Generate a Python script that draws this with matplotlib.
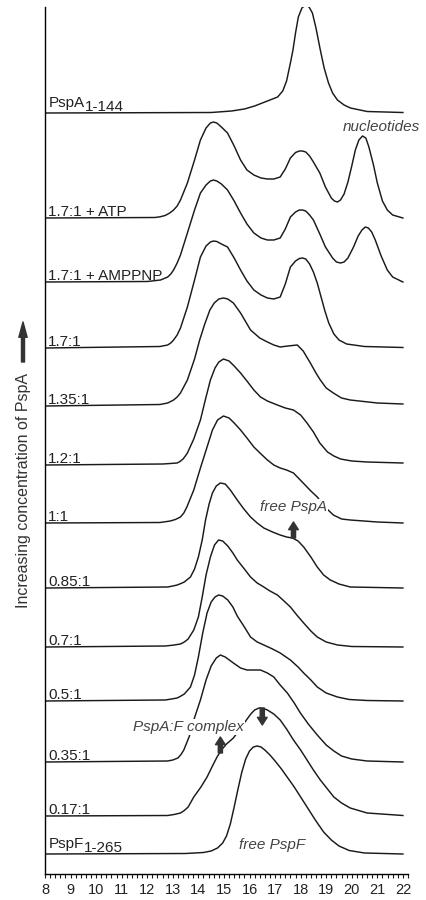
import matplotlib
matplotlib.use("Agg")
import matplotlib.pyplot as plt
from matplotlib.ticker import MultipleLocator

plt.rcParams['font.family'] = ['Liberation Sans', 'DejaVu Sans']

# elution volume (ml) and trace height above its own baseline
x_pspf = [8, 13.5, 14.2, 14.5, 14.75, 14.95, 15.1, 15.25, 15.4, 15.55, 15.7, 15.85, 16.0, 16.15, 16.3,
          16.45, 16.6, 16.8, 17.0, 17.25, 17.5, 17.75, 18.0, 18.3, 18.6, 18.9, 19.2, 19.5, 19.9, 20.5, 22]
h_pspf = [0, 0.5, 1.5, 3, 6, 11, 18, 30, 47, 65, 82, 95, 103, 107, 108, 107, 104, 99, 93, 85, 76, 67, 57,
          45, 33, 22, 14, 8, 3.5, 1, 0]

x_017 = [8, 12.8, 13.05, 13.3, 13.45, 13.6, 13.82, 14.1, 14.34, 14.55, 14.73, 14.9, 15.1, 15.37, 15.6,
         15.85, 16.05, 16.2, 16.37, 16.55, 16.7, 16.95, 17.2, 17.45, 17.72, 18.0, 18.25, 18.5, 18.77, 19.05,
         19.3, 19.6, 19.94, 20.6, 22]
h_017 = [0, 0.5, 1.5, 3, 5.5, 9, 19, 29, 39, 50, 59, 66, 72, 78, 86, 95, 102, 106, 108, 107.5, 106, 102,
         96, 87, 76, 66, 56, 46, 36, 27, 19, 13, 8, 3, 0.5]

x_035 = [8, 12.8, 13.0, 13.2, 13.32, 13.43, 13.65, 13.82, 14.08, 14.3, 14.5, 14.7, 14.86, 15.05, 15.37,
         15.65, 15.9, 16.15, 16.43, 16.7, 16.95, 17.2, 17.48, 17.75, 17.99, 18.3, 18.65, 19.0, 19.3, 19.6,
         20.0, 20.6, 22]
h_035 = [0, 1, 2, 4, 7.5, 12, 26, 42, 62, 82, 96, 104, 107, 105, 99, 94, 92, 92, 92, 89, 85, 77, 69, 59,
         49, 38, 27, 17, 11, 6, 3, 1, 0]

x_05 = [8, 12.7, 12.95, 13.17, 13.32, 13.45, 13.69, 13.85, 14.0, 14.17, 14.34, 14.5, 14.65, 14.79, 14.95,
        15.15, 15.35, 15.52, 15.8, 16.04, 16.3, 16.56, 16.9, 17.2, 17.6, 17.9, 18.12, 18.4, 18.65, 19.0,
        19.44, 19.9, 20.6, 22]
h_05 = [0, 1, 2, 3, 5, 7, 14, 26, 44, 68, 88, 99, 104, 106, 105, 101, 94, 85, 74, 64, 59, 56, 52, 48, 41,
        34, 28, 21, 14, 8, 4, 1.5, 0.5, 0]

x_07 = [8, 12.7, 13.0, 13.3, 13.45, 13.6, 13.82, 14.0, 14.15, 14.3, 14.47, 14.63, 14.79, 14.95, 15.15,
        15.35, 15.52, 15.8, 16.04, 16.3, 16.56, 16.8, 17.09, 17.35, 17.6, 17.85, 18.12, 18.4, 18.65, 19.0,
        19.44, 20.0, 22]
h_07 = [0, 1, 1.8, 3, 5, 8, 17, 30, 50, 72, 90, 102, 107, 106, 101, 94, 87, 78, 70, 64, 60, 56, 52, 46,
        40, 32, 24, 16, 10, 5, 2, 0.5, 0]

x_085 = [8, 12.8, 13.0, 13.17, 13.32, 13.45, 13.69, 13.85, 14.0, 14.15, 14.28, 14.42, 14.55, 14.7, 14.86,
         15.05, 15.25, 15.52, 15.78, 16.04, 16.3, 16.56, 16.9, 17.2, 17.45, 17.68, 17.9, 18.12, 18.4, 18.65,
         18.9, 19.16, 19.5, 19.94, 22]
h_085 = [0, 1, 2, 3, 4.5, 6, 11, 19, 31, 48, 68, 84, 95, 102, 105, 104, 98, 88, 79, 71, 65, 60, 56, 53,
         51, 50, 47, 41, 31, 21, 13, 8, 4, 1, 0]

x_1 = [8, 12.5, 12.9, 13.1, 13.3, 13.43, 13.55, 13.82, 14.08, 14.34, 14.55, 14.75, 14.98, 15.2, 15.4,
       15.65, 15.9, 16.17, 16.45, 16.7, 16.95, 17.2, 17.45, 17.72, 18.1, 18.4, 18.65, 18.95, 19.28, 19.6,
       19.94, 21, 22]
h_1 = [0, 0.5, 2, 3.5, 6, 10, 16, 33, 55, 76, 93, 103, 107, 105, 100, 93, 85, 76, 69, 63, 58, 55, 53, 50,
       40, 32, 26, 16, 8, 4, 3, 1, 0]

x_12 = [8, 12.6, 12.9, 13.17, 13.28, 13.4, 13.49, 13.57, 13.82, 14.08, 14.28, 14.47, 14.65, 14.8, 14.98,
        15.2, 15.4, 15.65, 15.9, 16.17, 16.43, 16.7, 17.09, 17.4, 17.72, 18.0, 18.25, 18.5, 18.75, 19.05,
        19.3, 19.56, 20.0, 20.6, 22]
h_12 = [0, 1, 1.5, 2, 3.5, 6, 9, 12, 26, 45, 66, 85, 97, 103, 106, 104, 99, 92, 84, 75, 68, 64, 60, 57,
        55, 50, 42, 33, 22, 13, 9, 6, 4, 3, 2]

x_135 = [8, 12.5, 12.8, 13.03, 13.17, 13.3, 13.57, 13.85, 14.05, 14.25, 14.45, 14.62, 14.8, 14.98, 15.15,
         15.37, 15.65, 16.04, 16.4, 16.7, 16.95, 17.2, 17.5, 17.87, 18.1, 18.38, 18.6, 18.77, 19.0, 19.28,
         19.6, 19.94, 21, 22]
h_135 = [0, 1.5, 3, 6, 9, 13, 26, 47, 66, 82, 96, 103, 107, 108, 107, 103, 93, 76, 68, 64, 61, 59, 60,
         61, 55, 43, 33, 26, 18, 13, 8, 6, 3, 2]

x_17 = [8, 12.5, 12.8, 12.92, 13.03, 13.17, 13.3, 13.57, 13.85, 14.08, 14.3, 14.47, 14.59, 14.72, 14.9,
        15.14, 15.4, 15.65, 15.9, 16.17, 16.45, 16.7, 16.95, 17.2, 17.4, 17.6, 17.8, 17.95, 18.07, 18.2,
        18.35, 18.5, 18.65, 18.8, 18.95, 19.1, 19.3, 19.5, 19.8, 20.5, 22]
h_17 = [0, 1.5, 3, 5, 8, 13, 20, 41, 68, 91, 102, 106, 107, 106.5, 104, 101, 90, 78, 67, 58, 53, 50, 49,
        51, 64, 81, 87, 89.5, 90, 89, 84, 76, 65, 51, 37, 25, 14, 8, 4, 1.5, 0.5]

x_amppnp = [8, 12.0, 12.52, 12.8, 12.92, 13.03, 13.17, 13.3, 13.57, 13.85, 14.08, 14.3, 14.47, 14.59,
            14.72, 14.9, 15.14, 15.4, 15.65, 15.9, 16.17, 16.45, 16.7, 16.95, 17.2, 17.4, 17.6, 17.8,
            17.95, 18.07, 18.2, 18.35, 18.5, 18.75, 18.97, 19.25, 19.4, 19.56, 19.7, 19.85, 20.07, 20.25,
            20.4, 20.53, 20.65, 20.78, 20.92, 21.15, 21.39, 21.6, 22]
h_amppnp = [0, 0.5, 2, 5, 8, 12, 19, 27, 49, 72, 89, 97, 101, 102, 101, 98, 92, 81, 69, 58, 49, 44, 42,
            42, 44, 53, 65, 70, 72, 72, 71, 67, 62, 48, 35, 24, 20, 19, 20, 24, 35, 46, 52, 55, 54, 50,
            42, 26, 12, 5, 0]

x_atp = [8, 12.3, 12.5, 12.7, 12.88, 13.03, 13.17, 13.3, 13.57, 13.85, 14.08, 14.3, 14.47, 14.59, 14.72,
         14.9, 15.14, 15.4, 15.65, 15.9, 16.17, 16.45, 16.7, 16.95, 17.2, 17.4, 17.6, 17.8, 17.95, 18.07,
         18.2, 18.35, 18.5, 18.75, 18.97, 19.2, 19.32, 19.44, 19.56, 19.7, 19.85, 20.0, 20.14, 20.28,
         20.42, 20.55, 20.67, 20.85, 21.0, 21.2, 21.39, 21.6, 22]
h_atp = [0, 0.5, 1.2, 2.5, 5, 8, 12, 18, 35, 58, 78, 90, 95, 96, 95, 91, 85, 72, 58, 48, 43, 40, 39, 39,
         41, 49, 60, 65.5, 67, 67, 66, 62, 56, 45, 31, 20, 17, 16, 18, 24, 36, 52, 68, 78, 82, 80, 71, 53,
         35, 17, 8, 3, 0]

x_pspa = [8, 14.5, 15.3, 15.8, 16.2, 16.6, 16.9, 17.1, 17.3, 17.45, 17.6, 17.7, 17.8, 17.91, 18.05, 18.19,
          18.33, 18.46, 18.6, 18.77, 18.92, 19.09, 19.25, 19.44, 19.7, 19.95, 20.6, 22]
h_pspa = [0, 0.5, 2, 4, 7, 11, 14, 16, 22, 32, 50, 63, 80, 96, 105, 108, 106, 100, 85, 63, 45, 30, 20,
          13, 8, 5, 1.5, 0.5]

traces = [(x_pspf, h_pspf), (x_017, h_017), (x_035, h_035), (x_05, h_05), (x_07, h_07),
          (x_085, h_085), (x_1, h_1), (x_12, h_12), (x_135, h_135), (x_17, h_17),
          (x_amppnp, h_amppnp), (x_atp, h_atp), (x_pspa, h_pspa)]
labels = ['PspF', '0.17:1', '0.35:1', '0.5:1', '0.7:1', '0.85:1', '1:1', '1.2:1', '1.35:1', '1.7:1',
          '1.7:1 + AMPPNP', '1.7:1 + ATP', 'PspA']
subs = {'PspF': '1-265', 'PspA': '1-144'}
# vertical stacking offset of each trace
offsets = [20, 58, 112, 173, 227, 286, 351, 409, 468, 526, 592, 656, 761]

fig = plt.figure(figsize=(4.27, 9.0), dpi=100)
ax = fig.add_axes([45 / 427, 26 / 900, 363 / 427, 867 / 900])

ink = '#1a1a1a'
for (xs, hs), off, lab in zip(traces, offsets, labels):
    ax.plot(xs, [h + off for h in hs], color=ink, lw=1.05, solid_joinstyle='round', zorder=2)
    dy = 6 if lab in subs else 2
    t = ax.text(8.13, off + dy, lab, fontsize=11, color='#222222', va='baseline', ha='left', zorder=3)
    if lab in subs:
        ax.annotate(subs[lab], xy=(1, 0), xycoords=t, xytext=(0, -3), textcoords='offset points',
                    fontsize=11, color='#222222', va='bottom', ha='left', zorder=3)

note = dict(fontsize=11, style='italic', color='#444444', ha='center', va='center', zorder=4,
            bbox=dict(facecolor='white', edgecolor='none', pad=0.5))
ax.text(21.16, 747, 'nucleotides', **note)
ax.text(17.72, 367, 'free PspA', **note)
ax.text(13.61, 147, 'PspA:F complex', **note)
ax.text(16.9, 29, 'free PspF', **note)

arrow = dict(arrowstyle='simple,head_length=0.55,head_width=0.7,tail_width=0.3', color='#333333',
             shrinkA=0, shrinkB=0, mutation_scale=10)
ax.annotate('', xy=(17.72, 352), xytext=(17.72, 336), arrowprops=arrow, zorder=5)
ax.annotate('', xy=(14.86, 137), xytext=(14.86, 121), arrowprops=arrow, zorder=5)
ax.annotate('', xy=(16.5, 149), xytext=(16.5, 166), arrowprops=arrow, zorder=5)

ax.set_xlim(8, 22.2)
ax.set_ylim(0, 867)
ax.spines['top'].set_visible(False)
ax.spines['right'].set_visible(False)
ax.spines['left'].set_linewidth(1.0)
ax.spines['bottom'].set_linewidth(1.0)
ax.set_yticks([])
ax.xaxis.set_major_locator(MultipleLocator(1))
ax.xaxis.set_minor_locator(MultipleLocator(0.2))
ax.tick_params(axis='x', which='both', direction='out', length=3, width=0.8, color=ink)
ax.tick_params(axis='x', which='major', labelsize=10.5, pad=3.5, labelcolor='#222222')

fig.text(24 / 427, 410 / 900, 'Increasing concentration of PspA', rotation=90, fontsize=11.5,
         color='#333333', ha='center', va='center')
# arrow next to the y label, placed in figure pixels
ax.annotate('', xy=(23, 578), xycoords='figure pixels', xytext=(23, 538), textcoords='figure pixels',
            arrowprops=dict(arrowstyle='simple,head_length=1.1,head_width=0.6,tail_width=0.22',
                            color='#333333', shrinkA=0, shrinkB=0, mutation_scale=10),
            annotation_clip=False)

fig.savefig('out.png', dpi=100)
